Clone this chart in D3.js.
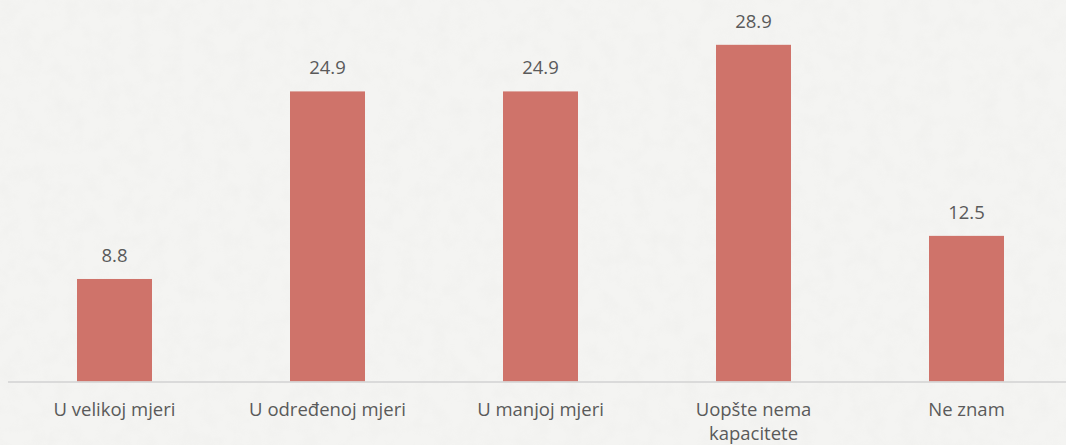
<!DOCTYPE html>
<html>
<head>
<meta charset="utf-8">
<script src="https://cdn.jsdelivr.net/npm/d3@7"></script>
<style>
  html, body { margin: 0; padding: 0; background: #f4f4f2; }
  svg { display: block; }
</style>
</head>
<body>
<script>
// chart data
const categories = ["U velikoj mjeri", "U određenoj mjeri", "U manjoj mjeri", "Uopšte nema kapacitete", "Ne znam"];
const values = [8.8, 24.9, 24.9, 28.9, 12.5];
// line breaks for long category labels
const labelLines = [["U velikoj mjeri"], ["U određenoj mjeri"], ["U manjoj mjeri"], ["Uopšte nema", "kapacitete"], ["Ne znam"]];

const W = 1066, H = 445;
const baseY = 381.5;

const svg = d3.select("body")
  .append("svg")
  .attr("width", W)
  .attr("height", H);

// paper-like background texture
const defs = svg.append("defs");
const f = defs.append("filter").attr("id", "paper").attr("x", 0).attr("y", 0).attr("width", "100%").attr("height", "100%");
f.append("feTurbulence").attr("type", "fractalNoise").attr("baseFrequency", 0.06).attr("numOctaves", 3).attr("seed", 4).attr("result", "n");
f.append("feColorMatrix").attr("type", "matrix")
  .attr("values", "0 0 0 0 0.55  0 0 0 0 0.55  0 0 0 0 0.53  0 0 0 -0.9 0.55");
svg.append("rect").attr("width", W).attr("height", H).attr("fill", "#f4f4f2");
svg.append("rect").attr("width", W).attr("height", H).attr("filter", "url(#paper)").attr("opacity", 0.12);

const x = d3.scaleBand()
  .domain(categories)
  .range([8, 1073])
  .paddingInner(138 / 213)
  .paddingOuter(69 / 213);

const y = d3.scaleLinear()
  .domain([0, 30])
  .range([baseY, baseY - 30 * 11.65]);

// bars
svg.append("g")
  .selectAll("rect")
  .data(values)
  .join("rect")
  .attr("x", (d, i) => x(categories[i]))
  .attr("y", d => y(d))
  .attr("width", x.bandwidth())
  .attr("height", d => y(0) - y(d))
  .attr("fill", "#cf736a");

// axis line
svg.append("line")
  .attr("x1", 8).attr("x2", W)
  .attr("y1", baseY + 0.5).attr("y2", baseY + 0.5)
  .attr("stroke", "#d2d2d2")
  .attr("stroke-width", 1.5);

// value labels
svg.append("g")
  .selectAll("text")
  .data(values)
  .join("text")
  .attr("x", (d, i) => x(categories[i]) + x.bandwidth() / 2)
  .attr("y", d => y(d) - 17)
  .attr("text-anchor", "middle")
  .attr("font-family", "'Open Sans', sans-serif")
  .attr("font-size", 18.5)
  .attr("fill", "#5a5a5a")
  .text(d => d.toFixed(1));

// category labels
const cl = svg.append("g")
  .selectAll("text")
  .data(categories)
  .join("text")
  .attr("x", d => x(d) + x.bandwidth() / 2)
  .attr("y", 416)
  .attr("text-anchor", "middle")
  .attr("font-family", "'Open Sans', sans-serif")
  .attr("font-size", 18.5)
  .attr("fill", "#5a5a5a");

cl.selectAll("tspan")
  .data((d, i) => labelLines[i])
  .join("tspan")
  .attr("x", function() { return this.parentNode.getAttribute("x"); })
  .attr("dy", (d, i) => i === 0 ? 0 : 24)
  .text(d => d);
</script>
</body>
</html>
